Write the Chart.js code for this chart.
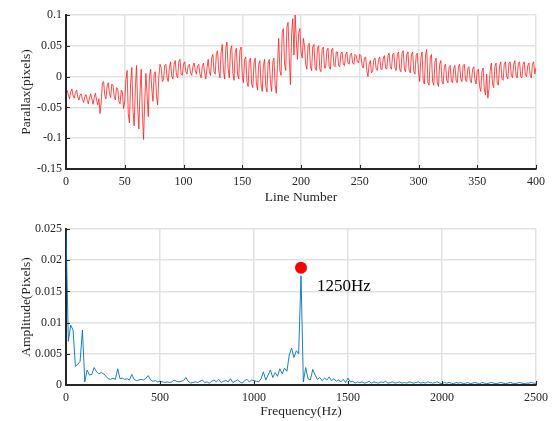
<!DOCTYPE html>
<html>
<head>
<meta charset="utf-8">
<script src="https://cdn.jsdelivr.net/npm/chart.js@4/dist/chart.umd.min.js"></script>
<style>
  body { margin: 0; background: #fff; }
  #wrap { position: relative; width: 555px; height: 421px; }
  canvas { position: absolute; left: 0; }
  #c1 { top: 0; }
  #c2 { top: 210px; }
</style>
</head>
<body>
<div id="wrap">
  <canvas id="c1" width="555" height="210"></canvas>
  <canvas id="c2" width="555" height="211"></canvas>
</div>
<script>
// parallax por linha (pixels), linhas 1..400
const parallax = [
  -0.022, -0.030, -0.036, -0.024, -0.020, -0.031, -0.035, -0.026, -0.022, -0.033,
  -0.038, -0.030, -0.028, -0.037, -0.042, -0.033, -0.029, -0.038, -0.044, -0.034,
  -0.028, -0.036, -0.045, -0.034, -0.027, -0.038, -0.046, -0.036, -0.060, -0.040,
  -0.010, -0.008, -0.030, -0.036, -0.015, -0.010, -0.028, -0.034, -0.012, -0.014,
  -0.032, -0.038, -0.018, -0.020, -0.040, -0.044, -0.022, -0.025, -0.052, -0.040,
  -0.005, 0.010, -0.060, -0.075, -0.010, 0.015, -0.055, -0.080, -0.020, 0.018,
  -0.050, -0.085, -0.025, 0.012, -0.060, -0.102, -0.040, 0.005, -0.030, -0.065,
  0.000, 0.012, -0.020, -0.040, 0.005, 0.008, -0.030, -0.046, 0.000, 0.020,
  0.015, -0.008, -0.005, 0.018, 0.020, -0.002, -0.008, 0.015, 0.024, 0.000,
  -0.004, 0.020, 0.026, 0.002, -0.002, 0.024, 0.028, 0.004, 0.002, 0.020,
  0.024, 0.008, 0.004, 0.018, 0.020, 0.006, 0.002, 0.016, 0.022, 0.010,
  0.004, 0.018, 0.020, 0.004, -0.002, 0.016, 0.022, 0.006, -0.004, 0.014,
  0.028, 0.008, 0.002, 0.030, 0.036, 0.008, 0.004, 0.038, 0.042, 0.010,
  -0.002, 0.040, 0.052, 0.010, -0.004, 0.046, 0.056, 0.012, -0.002, 0.044,
  0.050, 0.006, -0.006, 0.040, 0.046, 0.004, -0.004, 0.042, 0.048, 0.002,
  -0.010, 0.028, 0.032, -0.008, -0.016, 0.026, 0.030, -0.012, -0.018, 0.022,
  0.030, -0.010, -0.022, 0.020, 0.026, -0.012, -0.024, 0.018, 0.028, -0.016,
  -0.025, 0.022, 0.028, -0.010, -0.024, 0.024, 0.030, -0.014, -0.027, 0.020,
  0.062, 0.010, 0.002, 0.072, 0.078, 0.020, 0.010, 0.080, 0.088, 0.030,
  -0.013, 0.070, 0.094, 0.035, 0.100, 0.060, 0.028, 0.070, 0.078, 0.040,
  0.030, 0.062, 0.050, 0.020, 0.012, 0.050, 0.054, 0.016, 0.010, 0.048,
  0.052, 0.014, 0.010, 0.046, 0.050, 0.012, 0.008, 0.044, 0.048, 0.014,
  0.014, 0.042, 0.046, 0.016, 0.012, 0.044, 0.046, 0.018, 0.016, 0.040,
  0.040, 0.018, 0.016, 0.038, 0.040, 0.020, 0.018, 0.036, 0.040, 0.022,
  0.020, 0.036, 0.038, 0.022, 0.020, 0.036, 0.034, 0.024, 0.022, 0.036,
  0.034, 0.018, 0.014, 0.030, 0.032, 0.010, 0.000, 0.020, 0.026, 0.006,
  0.010, 0.028, 0.030, 0.012, 0.010, 0.028, 0.032, 0.012, 0.012, 0.030,
  0.034, 0.014, 0.012, 0.034, 0.038, 0.016, 0.012, 0.036, 0.038, 0.014,
  0.010, 0.036, 0.040, 0.012, 0.008, 0.038, 0.042, 0.012, 0.008, 0.036,
  0.040, 0.010, 0.006, 0.036, 0.040, 0.008, 0.004, 0.034, 0.038, 0.006,
  -0.008, 0.030, 0.040, -0.006, -0.012, 0.036, 0.044, -0.010, -0.014, 0.030,
  0.036, -0.008, -0.014, 0.024, 0.030, -0.010, -0.016, 0.020, 0.026, -0.008,
  -0.012, 0.016, 0.020, -0.006, -0.010, 0.016, 0.018, -0.008, -0.010, 0.014,
  0.018, -0.006, -0.010, 0.016, 0.020, -0.004, -0.008, 0.018, 0.020, -0.006,
  -0.008, 0.014, 0.016, -0.006, -0.010, 0.012, 0.016, -0.004, -0.012, 0.010,
  0.012, -0.016, -0.024, 0.008, 0.014, -0.020, -0.030, 0.004, -0.035, -0.020,
  0.010, 0.022, -0.012, -0.018, 0.016, 0.022, -0.010, -0.014, 0.018, 0.024,
  -0.004, -0.006, 0.020, 0.024, 0.000, -0.004, 0.022, 0.024, 0.002, -0.002,
  0.020, 0.026, 0.002, -0.002, 0.022, 0.024, 0.000, -0.002, 0.020, 0.024,
  0.002, 0.000, 0.018, 0.022, 0.002, -0.002, 0.020, 0.024, 0.004, 0.015
];
const lineNumbers = parallax.map((_, i) => i + 1);

// espectro de amplitude, passo de 12.5 Hz (0..2500)
const amplitude = [
  0.0247, 0.0070, 0.0096, 0.0088, 0.0030, 0.0033, 0.0038, 0.0088, 0.0005, 0.0024,
  0.0016, 0.0017, 0.0028, 0.0021, 0.0018, 0.0020, 0.0018, 0.0014, 0.0010, 0.0009,
  0.0011, 0.0009, 0.0026, 0.0010, 0.0011, 0.0009, 0.0010, 0.0008, 0.0017, 0.0009,
  0.0007, 0.0008, 0.0009, 0.0008, 0.0011, 0.0015, 0.0008, 0.0006, 0.0007, 0.0005,
  0.0006, 0.0005, 0.0004, 0.0005, 0.0004, 0.0005, 0.0008, 0.0006, 0.0005, 0.0006,
  0.0007, 0.0012, 0.0006, 0.0003, 0.0004, 0.0005, 0.0004, 0.0006, 0.0008, 0.0004,
  0.0005, 0.0003, 0.0006, 0.0008, 0.0005, 0.0009, 0.0004, 0.0006, 0.0007, 0.0005,
  0.0010, 0.0004, 0.0006, 0.0008, 0.0005, 0.0003, 0.0007, 0.0009, 0.0005, 0.0008,
  0.0007, 0.0006, 0.0005, 0.0010, 0.0021, 0.0008, 0.0016, 0.0024, 0.0012, 0.0020,
  0.0014, 0.0026, 0.0018, 0.0027, 0.0022, 0.0048, 0.0059, 0.0044, 0.0055, 0.0050,
  0.0175, 0.0005, 0.0028, 0.0010, 0.0008, 0.0025, 0.0016, 0.0009, 0.0012, 0.0007,
  0.0011, 0.0008, 0.0013, 0.0007, 0.0010, 0.0006, 0.0008, 0.0005, 0.0009, 0.0004,
  0.0011, 0.0005, 0.0006, 0.0003, 0.0005, 0.0004, 0.0005, 0.0003, 0.0004, 0.0006,
  0.0003, 0.0005, 0.0004, 0.0003, 0.0005, 0.0004, 0.0006, 0.0003, 0.0004, 0.0005,
  0.0003, 0.0004, 0.0005, 0.0003, 0.0004, 0.0003, 0.0005, 0.0004, 0.0003, 0.0004,
  0.0005, 0.0003, 0.0004, 0.0003, 0.0005, 0.0004, 0.0003, 0.0004, 0.0005, 0.0003,
  0.0002, 0.0004, 0.0003, 0.0004, 0.0003, 0.0002, 0.0004, 0.0003, 0.0004, 0.0002,
  0.0003, 0.0004, 0.0002, 0.0003, 0.0004, 0.0003, 0.0002, 0.0004, 0.0003, 0.0002,
  0.0003, 0.0004, 0.0003, 0.0002, 0.0003, 0.0004, 0.0003, 0.0002, 0.0003, 0.0004,
  0.0003, 0.0002, 0.0003, 0.0004, 0.0003, 0.0002, 0.0003, 0.0003, 0.0004, 0.0003, 0.0003
];
const frequencies = amplitude.map((_, i) => i * 12.5);

// pico marcado
const peakFreq = [1250];
const peakAmp = [0.0188];
const peakLabel = '1250Hz';

// ticks
const xTicksTop = [0, 50, 100, 150, 200, 250, 300, 350, 400];
const yTicksTop = [-0.15, -0.1, -0.05, 0, 0.05, 0.1];
const xTicksBottom = [0, 500, 1000, 1500, 2000, 2500];
const yTicksBottom = [0, 0.005, 0.01, 0.015, 0.02, 0.025];

const FONT = "'Liberation Serif', 'Times New Roman', serif";
const AXIS = '#262626';
const GRID = '#e2e2e2';

// marcas de tick para dentro, estilo MATLAB
const tickMarks = {
  id: 'tickMarks',
  afterDraw(chart) {
    const { ctx, chartArea: a } = chart;
    const sx = chart.scales.x, sy = chart.scales.y;
    ctx.save();
    ctx.strokeStyle = AXIS;
    ctx.lineWidth = 1;
    ctx.beginPath();
    sx.ticks.forEach(t => {
      const px = Math.round(sx.getPixelForValue(t.value)) + 0.5;
      ctx.moveTo(px, a.bottom);
      ctx.lineTo(px, a.bottom - 4);
    });
    sy.ticks.forEach(t => {
      const py = Math.round(sy.getPixelForValue(t.value)) + 0.5;
      ctx.moveTo(a.left, py);
      ctx.lineTo(a.left + 4, py);
    });
    ctx.stroke();
    ctx.restore();
  }
};

// texto do pico
const peakText = {
  id: 'peakText',
  afterDraw(chart) {
    const { ctx } = chart;
    const px = chart.scales.x.getPixelForValue(peakFreq[0]);
    const py = chart.scales.y.getPixelForValue(peakAmp[0]);
    ctx.save();
    ctx.font = '17px ' + FONT;
    ctx.fillStyle = '#000';
    ctx.textBaseline = 'alphabetic';
    ctx.fillText(peakLabel, px + 16, py + 23);
    ctx.restore();
  }
};

function eixos(xMin, xMax, xTicks, yMin, yMax, yTicks, xTitle, yTitle, xHeight, xTitlePad) {
  return {
    x: {
      type: 'linear',
      min: xMin, max: xMax,
      afterBuildTicks: s => { s.ticks = xTicks.map(v => ({ value: v })); },
      afterFit: s => { s.height = xHeight; },
      grid: { color: GRID, lineWidth: 1.5, drawTicks: false },
      border: { color: AXIS, width: 2 },
      ticks: { padding: 6, color: AXIS, font: { family: FONT, size: 12 }, callback: v => String(v), maxRotation: 0 },
      title: { display: true, text: xTitle, color: AXIS, font: { family: FONT, size: 13.5 }, padding: { top: 0, bottom: xTitlePad } }
    },
    y: {
      type: 'linear',
      min: yMin, max: yMax,
      afterBuildTicks: s => { s.ticks = yTicks.map(v => ({ value: v })); },
      afterFit: s => { s.width = 66; },
      grid: { color: GRID, lineWidth: 1.5, drawTicks: false },
      border: { color: AXIS, width: 2 },
      ticks: { padding: 4, color: AXIS, font: { family: FONT, size: 12 }, callback: v => String(v) },
      title: { display: true, text: yTitle, color: AXIS, font: { family: FONT, size: 13.5 }, padding: { top: 18, bottom: 0 } }
    }
  };
}

const comum = {
  responsive: false,
  animation: false,
  devicePixelRatio: 1,
  plugins: { legend: { display: false }, tooltip: { enabled: false } }
};

new Chart(document.getElementById('c1').getContext('2d'), {
  type: 'line',
  data: {
    datasets: [{
      data: parallax.map((v, i) => ({ x: lineNumbers[i], y: v })),
      borderColor: '#ff1a1a',
      borderWidth: 0.8,
      pointRadius: 0,
      tension: 0
    }]
  },
  options: {
    ...comum,
    layout: { padding: { left: 0, right: 19, top: 15, bottom: 0 } },
    scales: eixos(0, 400, xTicksTop, -0.15, 0.1, yTicksTop, 'Line Number', 'Parallax(pixels)', 41, 4.6)
  },
  plugins: [tickMarks]
});

new Chart(document.getElementById('c2').getContext('2d'), {
  type: 'line',
  data: {
    datasets: [{
      data: peakFreq.map((f, i) => ({ x: f, y: peakAmp[i] })),
      showLine: false,
      pointRadius: 6,
      pointBackgroundColor: '#ff0000',
      pointBorderColor: '#ff0000',
      pointBorderWidth: 0
    }, {
      data: amplitude.map((v, i) => ({ x: frequencies[i], y: v })),
      borderColor: 'rgb(0,114,189)',
      borderWidth: 0.9,
      pointRadius: 0,
      tension: 0
    }]
  },
  options: {
    ...comum,
    layout: { padding: { left: 0, right: 19, top: 19, bottom: 0 } },
    scales: eixos(0, 2500, xTicksBottom, 0, 0.025, yTicksBottom, 'Frequency(Hz)', 'Amplitude(Pixels)', 36, 1.9)
  },
  plugins: [tickMarks, peakText]
});
</script>
</body>
</html>
